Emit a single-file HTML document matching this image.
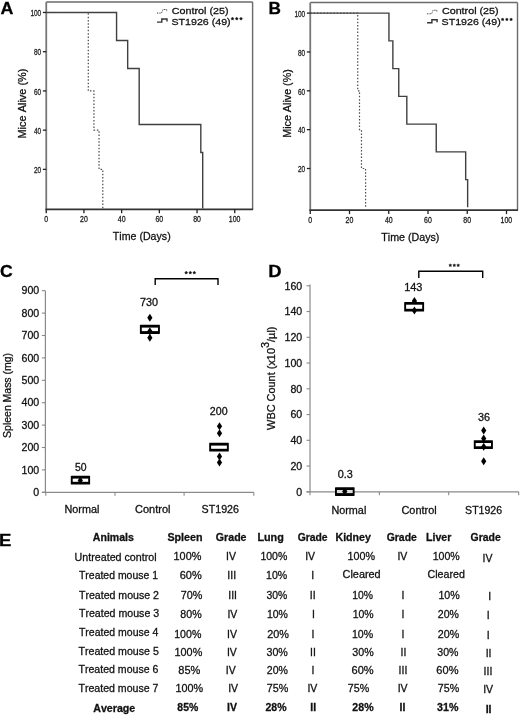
<!DOCTYPE html>
<html><head><meta charset="utf-8"><style>
html,body{margin:0;padding:0;background:#fff;}
body{width:520px;height:715px;position:relative;overflow:hidden;font-family:"Liberation Sans", sans-serif;}
</style></head><body>
<svg width="520" height="715" viewBox="0 0 520 715" style="position:absolute;left:0;top:0;will-change:transform">
<g font-family='"Liberation Sans", sans-serif' style="font-kerning:none" stroke-width="0.28">
<line x1="46.25" y1="2.00" x2="252.60" y2="2.00" stroke="#6a6a6a" stroke-width="1.5"/>
<line x1="252.60" y1="2.00" x2="252.60" y2="209.40" stroke="#6a6a6a" stroke-width="1.4"/>
<line x1="46.25" y1="2.00" x2="46.25" y2="210.10" stroke="#777" stroke-width="1.8"/>
<line x1="45.55" y1="209.40" x2="253.10" y2="209.40" stroke="#333" stroke-width="1.7"/>
<line x1="42.85" y1="169.38" x2="46.25" y2="169.38" stroke="#222" stroke-width="1.3"/>
<text transform="translate(34.03,173.08) scale(0.750,1)" font-size="8.6" fill="#1a1a1a" stroke="#1a1a1a">20</text>
<line x1="42.85" y1="130.15" x2="46.25" y2="130.15" stroke="#222" stroke-width="1.3"/>
<text transform="translate(34.03,133.85) scale(0.750,1)" font-size="8.6" fill="#1a1a1a" stroke="#1a1a1a">40</text>
<line x1="42.85" y1="90.93" x2="46.25" y2="90.93" stroke="#222" stroke-width="1.3"/>
<text transform="translate(34.03,94.63) scale(0.750,1)" font-size="8.6" fill="#1a1a1a" stroke="#1a1a1a">60</text>
<line x1="42.85" y1="51.70" x2="46.25" y2="51.70" stroke="#222" stroke-width="1.3"/>
<text transform="translate(34.03,55.40) scale(0.750,1)" font-size="8.6" fill="#1a1a1a" stroke="#1a1a1a">80</text>
<line x1="42.85" y1="12.48" x2="46.25" y2="12.48" stroke="#222" stroke-width="1.3"/>
<text transform="translate(30.44,16.18) scale(0.750,1)" font-size="8.6" fill="#1a1a1a" stroke="#1a1a1a">100</text>
<line x1="46.25" y1="209.40" x2="46.25" y2="213.30" stroke="#222" stroke-width="1.3"/>
<text transform="translate(44.31,221.80) scale(0.820,1)" font-size="8.5" fill="#1a1a1a" stroke="#1a1a1a">0</text>
<line x1="83.95" y1="209.40" x2="83.95" y2="213.30" stroke="#222" stroke-width="1.3"/>
<text transform="translate(80.03,221.80) scale(0.820,1)" font-size="8.5" fill="#1a1a1a" stroke="#1a1a1a">20</text>
<line x1="121.65" y1="209.40" x2="121.65" y2="213.30" stroke="#222" stroke-width="1.3"/>
<text transform="translate(117.83,221.80) scale(0.820,1)" font-size="8.5" fill="#1a1a1a" stroke="#1a1a1a">40</text>
<line x1="159.35" y1="209.40" x2="159.35" y2="213.30" stroke="#222" stroke-width="1.3"/>
<text transform="translate(155.43,221.80) scale(0.820,1)" font-size="8.5" fill="#1a1a1a" stroke="#1a1a1a">60</text>
<line x1="197.05" y1="209.40" x2="197.05" y2="213.30" stroke="#222" stroke-width="1.3"/>
<text transform="translate(193.16,221.80) scale(0.820,1)" font-size="8.5" fill="#1a1a1a" stroke="#1a1a1a">80</text>
<line x1="234.75" y1="209.40" x2="234.75" y2="213.30" stroke="#222" stroke-width="1.3"/>
<text transform="translate(228.81,221.80) scale(0.820,1)" font-size="8.5" fill="#1a1a1a" stroke="#1a1a1a">100</text>
<path d="M46.25,12.48 H116.56 V40.51 H127.68 V68.51 H139.18 V124.54 H200.82 V152.57 H202.71 V208.60" stroke="#404040" stroke-width="1.4" fill="none"/>
<path d="M46.25,12.48 H88.29 V90.93 H93.94 V130.15 H99.03 V169.38 H102.80 V208.60" stroke="#4a4a4a" stroke-width="1.2" fill="none" stroke-dasharray="1.5,1.8"/>
<text transform="translate(0.55,13.80) scale(1.084,1)" font-size="16.5" font-weight="bold" fill="#000" stroke="#000">A</text>
<path d="M157.0,13.1 H161.5 L163.0,9.5 H166.7 V11.9" stroke="#333" stroke-width="1.0" fill="none" stroke-dasharray="1.2,1.2"/>
<path d="M157.0,22.1 H161.8 V19.0 H167.0 V21.5" stroke="#333" stroke-width="1.4" fill="none"/>
<text transform="translate(171.85,13.70) scale(1.096,1)" font-size="9.8" fill="#111" stroke="#111">Control (25)</text>
<text transform="translate(171.42,24.70) scale(1.088,1)" font-size="9.8" fill="#111" stroke="#111">ST1926 (49)</text>
<polygon points="232.50,17.20 232.98,18.03 233.93,18.24 233.28,18.95 233.38,19.91 232.50,19.52 231.62,19.91 231.72,18.95 231.07,18.24 232.02,18.03" fill="#111" stroke="#111" stroke-width="0.5"/>
<polygon points="236.75,17.20 237.23,18.03 238.18,18.24 237.53,18.95 237.63,19.91 236.75,19.52 235.87,19.91 235.97,18.95 235.32,18.24 236.27,18.03" fill="#111" stroke="#111" stroke-width="0.5"/>
<polygon points="241.00,17.20 241.48,18.03 242.43,18.24 241.78,18.95 241.88,19.91 241.00,19.52 240.12,19.91 240.22,18.95 239.57,18.24 240.52,18.03" fill="#111" stroke="#111" stroke-width="0.5"/>
<text transform="translate(26.40,138.50) rotate(-90) scale(1.035,1)" font-size="10.6" fill="#111" stroke="#111">Mice Alive (%)</text>
<text transform="translate(112.86,240.10) scale(1.002,1)" font-size="10.6" fill="#111" stroke="#111">Time (Days)</text>
<line x1="310.25" y1="2.60" x2="517.50" y2="2.60" stroke="#6a6a6a" stroke-width="1.5"/>
<line x1="517.50" y1="2.60" x2="517.50" y2="210.20" stroke="#6a6a6a" stroke-width="1.4"/>
<line x1="310.25" y1="2.60" x2="310.25" y2="210.90" stroke="#777" stroke-width="1.8"/>
<line x1="309.55" y1="210.20" x2="518.00" y2="210.20" stroke="#333" stroke-width="1.7"/>
<line x1="306.85" y1="168.50" x2="310.25" y2="168.50" stroke="#222" stroke-width="1.3"/>
<text transform="translate(298.03,172.20) scale(0.750,1)" font-size="8.6" fill="#1a1a1a" stroke="#1a1a1a">20</text>
<line x1="306.85" y1="129.65" x2="310.25" y2="129.65" stroke="#222" stroke-width="1.3"/>
<text transform="translate(298.03,133.35) scale(0.750,1)" font-size="8.6" fill="#1a1a1a" stroke="#1a1a1a">40</text>
<line x1="306.85" y1="90.80" x2="310.25" y2="90.80" stroke="#222" stroke-width="1.3"/>
<text transform="translate(298.03,94.50) scale(0.750,1)" font-size="8.6" fill="#1a1a1a" stroke="#1a1a1a">60</text>
<line x1="306.85" y1="51.95" x2="310.25" y2="51.95" stroke="#222" stroke-width="1.3"/>
<text transform="translate(298.03,55.65) scale(0.750,1)" font-size="8.6" fill="#1a1a1a" stroke="#1a1a1a">80</text>
<line x1="306.85" y1="13.10" x2="310.25" y2="13.10" stroke="#222" stroke-width="1.3"/>
<text transform="translate(294.44,16.80) scale(0.750,1)" font-size="8.6" fill="#1a1a1a" stroke="#1a1a1a">100</text>
<line x1="310.25" y1="210.20" x2="310.25" y2="214.10" stroke="#222" stroke-width="1.3"/>
<text transform="translate(308.31,222.60) scale(0.820,1)" font-size="8.5" fill="#1a1a1a" stroke="#1a1a1a">0</text>
<line x1="349.50" y1="210.20" x2="349.50" y2="214.10" stroke="#222" stroke-width="1.3"/>
<text transform="translate(345.58,222.60) scale(0.820,1)" font-size="8.5" fill="#1a1a1a" stroke="#1a1a1a">20</text>
<line x1="388.75" y1="210.20" x2="388.75" y2="214.10" stroke="#222" stroke-width="1.3"/>
<text transform="translate(384.93,222.60) scale(0.820,1)" font-size="8.5" fill="#1a1a1a" stroke="#1a1a1a">40</text>
<line x1="428.00" y1="210.20" x2="428.00" y2="214.10" stroke="#222" stroke-width="1.3"/>
<text transform="translate(424.08,222.60) scale(0.820,1)" font-size="8.5" fill="#1a1a1a" stroke="#1a1a1a">60</text>
<line x1="467.25" y1="210.20" x2="467.25" y2="214.10" stroke="#222" stroke-width="1.3"/>
<text transform="translate(463.36,222.60) scale(0.820,1)" font-size="8.5" fill="#1a1a1a" stroke="#1a1a1a">80</text>
<line x1="506.50" y1="210.20" x2="506.50" y2="214.10" stroke="#222" stroke-width="1.3"/>
<text transform="translate(500.56,222.60) scale(0.820,1)" font-size="8.5" fill="#1a1a1a" stroke="#1a1a1a">100</text>
<path d="M310.25,13.10 H388.95 V40.86 H392.87 V68.60 H398.76 V96.36 H406.81 V124.09 H436.24 V151.85 H465.68 V179.59 H467.64 V207.35" stroke="#404040" stroke-width="1.4" fill="none"/>
<path d="M310.25,13.10 H357.74 V90.80 H359.51 V129.65 H361.47 V168.50 H365.59 V207.35" stroke="#4a4a4a" stroke-width="1.2" fill="none" stroke-dasharray="1.5,1.8"/>
<text transform="translate(268.60,13.50) scale(1.043,1)" font-size="16.5" font-weight="bold" fill="#000" stroke="#000">B</text>
<path d="M427.1,13.8 H431.6 L433.1,10.2 H436.8 V12.6" stroke="#333" stroke-width="1.0" fill="none" stroke-dasharray="1.2,1.2"/>
<path d="M427.1,22.8 H431.9 V19.7 H437.1 V22.2" stroke="#333" stroke-width="1.4" fill="none"/>
<text transform="translate(441.95,14.40) scale(1.096,1)" font-size="9.8" fill="#111" stroke="#111">Control (25)</text>
<text transform="translate(441.52,25.40) scale(1.088,1)" font-size="9.8" fill="#111" stroke="#111">ST1926 (49)</text>
<polygon points="502.60,17.90 503.08,18.73 504.03,18.94 503.38,19.65 503.48,20.61 502.60,20.22 501.72,20.61 501.82,19.65 501.17,18.94 502.12,18.73" fill="#111" stroke="#111" stroke-width="0.5"/>
<polygon points="506.85,17.90 507.33,18.73 508.28,18.94 507.63,19.65 507.73,20.61 506.85,20.22 505.97,20.61 506.07,19.65 505.42,18.94 506.37,18.73" fill="#111" stroke="#111" stroke-width="0.5"/>
<polygon points="511.10,17.90 511.58,18.73 512.53,18.94 511.88,19.65 511.98,20.61 511.10,20.22 510.22,20.61 510.32,19.65 509.67,18.94 510.62,18.73" fill="#111" stroke="#111" stroke-width="0.5"/>
<text transform="translate(290.50,137.78) rotate(-90) scale(1.014,1)" font-size="10.6" fill="#111" stroke="#111">Mice Alive (%)</text>
<text transform="translate(381.26,240.60) scale(1.009,1)" font-size="10.6" fill="#111" stroke="#111">Time (Days)</text>
<text transform="translate(0.08,276.80) scale(1.066,1)" font-size="16.5" font-weight="bold" fill="#000" stroke="#000">C</text>
<line x1="45.40" y1="290.70" x2="45.40" y2="492.30" stroke="#8a8a8a" stroke-width="1.2"/>
<line x1="41.90" y1="492.30" x2="253.80" y2="492.30" stroke="#8a8a8a" stroke-width="1.2"/>
<line x1="41.90" y1="492.30" x2="45.40" y2="492.30" stroke="#8a8a8a" stroke-width="1.1"/>
<line x1="41.90" y1="469.90" x2="45.40" y2="469.90" stroke="#8a8a8a" stroke-width="1.1"/>
<line x1="41.90" y1="447.50" x2="45.40" y2="447.50" stroke="#8a8a8a" stroke-width="1.1"/>
<line x1="41.90" y1="425.10" x2="45.40" y2="425.10" stroke="#8a8a8a" stroke-width="1.1"/>
<line x1="41.90" y1="402.70" x2="45.40" y2="402.70" stroke="#8a8a8a" stroke-width="1.1"/>
<line x1="41.90" y1="380.30" x2="45.40" y2="380.30" stroke="#8a8a8a" stroke-width="1.1"/>
<line x1="41.90" y1="357.90" x2="45.40" y2="357.90" stroke="#8a8a8a" stroke-width="1.1"/>
<line x1="41.90" y1="335.50" x2="45.40" y2="335.50" stroke="#8a8a8a" stroke-width="1.1"/>
<line x1="41.90" y1="313.10" x2="45.40" y2="313.10" stroke="#8a8a8a" stroke-width="1.1"/>
<line x1="41.90" y1="290.70" x2="45.40" y2="290.70" stroke="#8a8a8a" stroke-width="1.1"/>
<line x1="45.80" y1="492.30" x2="45.80" y2="495.70" stroke="#8a8a8a" stroke-width="1.1"/>
<line x1="115.00" y1="492.30" x2="115.00" y2="495.70" stroke="#8a8a8a" stroke-width="1.1"/>
<line x1="184.10" y1="492.30" x2="184.10" y2="495.70" stroke="#8a8a8a" stroke-width="1.1"/>
<line x1="253.80" y1="492.30" x2="253.80" y2="495.70" stroke="#8a8a8a" stroke-width="1.1"/>
<text transform="translate(33.32,496.00) scale(1.000,1)" font-size="10.6" fill="#111" stroke="#111">0</text>
<text transform="translate(21.53,473.60) scale(1.000,1)" font-size="10.6" fill="#111" stroke="#111">100</text>
<text transform="translate(21.53,451.20) scale(1.000,1)" font-size="10.6" fill="#111" stroke="#111">200</text>
<text transform="translate(21.53,428.80) scale(1.000,1)" font-size="10.6" fill="#111" stroke="#111">300</text>
<text transform="translate(21.53,406.40) scale(1.000,1)" font-size="10.6" fill="#111" stroke="#111">400</text>
<text transform="translate(21.53,384.00) scale(1.000,1)" font-size="10.6" fill="#111" stroke="#111">500</text>
<text transform="translate(21.53,361.60) scale(1.000,1)" font-size="10.6" fill="#111" stroke="#111">600</text>
<text transform="translate(21.53,339.20) scale(1.000,1)" font-size="10.6" fill="#111" stroke="#111">700</text>
<text transform="translate(21.53,316.80) scale(1.000,1)" font-size="10.6" fill="#111" stroke="#111">800</text>
<text transform="translate(21.53,294.40) scale(1.000,1)" font-size="10.6" fill="#111" stroke="#111">900</text>
<text transform="translate(10.90,437.88) rotate(-90) scale(1.017,1)" font-size="10.3" fill="#111" stroke="#111">Spleen Mass (mg)</text>
<text transform="translate(64.51,513.30) scale(1.062,1)" font-size="10.2" fill="#111" stroke="#111">Normal</text>
<text transform="translate(135.04,513.40) scale(1.080,1)" font-size="10.2" fill="#111" stroke="#111">Control</text>
<text transform="translate(201.62,513.40) scale(1.046,1)" font-size="10.2" fill="#111" stroke="#111">ST1926</text>
<path d="M155.2,285 V278.7 H218 V285" stroke="#000" stroke-width="1.4" fill="none"/>
<polygon points="186.20,271.20 186.68,272.03 187.63,272.24 186.98,272.95 187.08,273.91 186.20,273.52 185.32,273.91 185.42,272.95 184.77,272.24 185.72,272.03" fill="#111" stroke="#111" stroke-width="0.5"/>
<polygon points="190.30,271.20 190.78,272.03 191.73,272.24 191.08,272.95 191.18,273.91 190.30,273.52 189.42,273.91 189.52,272.95 188.87,272.24 189.82,272.03" fill="#111" stroke="#111" stroke-width="0.5"/>
<polygon points="194.30,271.20 194.78,272.03 195.73,272.24 195.08,272.95 195.18,273.91 194.30,273.52 193.42,273.91 193.52,272.95 192.87,272.24 193.82,272.03" fill="#111" stroke="#111" stroke-width="0.5"/>
<text transform="translate(74.98,470.80) scale(1.045,1)" font-size="10.0" fill="#111" stroke="#111">50</text>
<text transform="translate(140.04,305.80) scale(1.084,1)" font-size="10.0" fill="#111" stroke="#111">730</text>
<text transform="translate(209.86,415.10) scale(1.064,1)" font-size="10.0" fill="#111" stroke="#111">200</text>
<rect x="70.80" y="475.80" width="19.30" height="8.80" fill="#000" rx="0.6"/>
<rect x="72.70" y="478.60" width="15.50" height="3.20" fill="#fff"/>
<path d="M80.30,476.50 L82.90,480.50 L80.30,484.50 L77.70,480.50 Z" fill="#000"/>
<path d="M149.85,313.80 L152.45,317.80 L149.85,321.80 L147.25,317.80 Z" fill="#000"/>
<rect x="139.90" y="324.80" width="20.00" height="9.10" fill="#000" rx="0.6"/>
<rect x="141.80" y="327.60" width="16.20" height="3.50" fill="#fff"/>
<path d="M149.85,327.20 L152.45,331.20 L149.85,335.20 L147.25,331.20 Z" fill="#000"/>
<path d="M149.85,333.80 L152.45,337.80 L149.85,341.80 L147.25,337.80 Z" fill="#000"/>
<path d="M219.50,422.30 L222.10,426.30 L219.50,430.30 L216.90,426.30 Z" fill="#000"/>
<path d="M219.50,429.20 L222.10,433.20 L219.50,437.20 L216.90,433.20 Z" fill="#000"/>
<rect x="209.20" y="442.80" width="19.60" height="8.80" fill="#000" rx="0.6"/>
<rect x="211.10" y="445.60" width="15.80" height="3.20" fill="#fff"/>
<path d="M219.50,452.60 L222.10,456.60 L219.50,460.60 L216.90,456.60 Z" fill="#000"/>
<path d="M219.50,458.50 L222.10,462.50 L219.50,466.50 L216.90,462.50 Z" fill="#000"/>
<text transform="translate(268.27,276.50) scale(1.117,1)" font-size="16.5" font-weight="bold" fill="#000" stroke="#000">D</text>
<line x1="310.00" y1="284.50" x2="310.00" y2="491.80" stroke="#8a8a8a" stroke-width="1.2"/>
<line x1="306.50" y1="491.80" x2="518.70" y2="491.80" stroke="#8a8a8a" stroke-width="1.2"/>
<line x1="306.50" y1="491.80" x2="310.00" y2="491.80" stroke="#8a8a8a" stroke-width="1.1"/>
<line x1="306.50" y1="466.05" x2="310.00" y2="466.05" stroke="#8a8a8a" stroke-width="1.1"/>
<line x1="306.50" y1="440.30" x2="310.00" y2="440.30" stroke="#8a8a8a" stroke-width="1.1"/>
<line x1="306.50" y1="414.55" x2="310.00" y2="414.55" stroke="#8a8a8a" stroke-width="1.1"/>
<line x1="306.50" y1="388.80" x2="310.00" y2="388.80" stroke="#8a8a8a" stroke-width="1.1"/>
<line x1="306.50" y1="363.05" x2="310.00" y2="363.05" stroke="#8a8a8a" stroke-width="1.1"/>
<line x1="306.50" y1="337.30" x2="310.00" y2="337.30" stroke="#8a8a8a" stroke-width="1.1"/>
<line x1="306.50" y1="311.55" x2="310.00" y2="311.55" stroke="#8a8a8a" stroke-width="1.1"/>
<line x1="306.50" y1="285.80" x2="310.00" y2="285.80" stroke="#8a8a8a" stroke-width="1.1"/>
<line x1="310.00" y1="491.80" x2="310.00" y2="495.20" stroke="#8a8a8a" stroke-width="1.1"/>
<line x1="379.40" y1="491.80" x2="379.40" y2="495.20" stroke="#8a8a8a" stroke-width="1.1"/>
<line x1="448.70" y1="491.80" x2="448.70" y2="495.20" stroke="#8a8a8a" stroke-width="1.1"/>
<line x1="518.70" y1="491.80" x2="518.70" y2="495.20" stroke="#8a8a8a" stroke-width="1.1"/>
<text transform="translate(296.32,495.50) scale(1.000,1)" font-size="10.6" fill="#111" stroke="#111">0</text>
<text transform="translate(290.42,469.75) scale(1.000,1)" font-size="10.6" fill="#111" stroke="#111">20</text>
<text transform="translate(290.42,444.00) scale(1.000,1)" font-size="10.6" fill="#111" stroke="#111">40</text>
<text transform="translate(290.42,418.25) scale(1.000,1)" font-size="10.6" fill="#111" stroke="#111">60</text>
<text transform="translate(290.42,392.50) scale(1.000,1)" font-size="10.6" fill="#111" stroke="#111">80</text>
<text transform="translate(284.53,366.75) scale(1.000,1)" font-size="10.6" fill="#111" stroke="#111">100</text>
<text transform="translate(284.53,341.00) scale(1.000,1)" font-size="10.6" fill="#111" stroke="#111">120</text>
<text transform="translate(284.53,315.25) scale(1.000,1)" font-size="10.6" fill="#111" stroke="#111">140</text>
<text transform="translate(284.53,289.50) scale(1.000,1)" font-size="10.6" fill="#111" stroke="#111">160</text>
<text transform="translate(275.0,429.9) rotate(-90) scale(1.06,1)" font-size="10.3" fill="#111" stroke="#111">WBC Count (x10<tspan dy="-6.3">3</tspan><tspan dy="6.3">/µl)</tspan></text>
<text transform="translate(331.41,513.60) scale(1.062,1)" font-size="10.2" fill="#111" stroke="#111">Normal</text>
<text transform="translate(401.44,513.60) scale(1.073,1)" font-size="10.2" fill="#111" stroke="#111">Control</text>
<text transform="translate(465.12,513.60) scale(1.037,1)" font-size="10.2" fill="#111" stroke="#111">ST1926</text>
<path d="M418.8,278.1 V271.2 H482.7 V278.1" stroke="#000" stroke-width="1.4" fill="none"/>
<polygon points="450.30,263.80 450.78,264.63 451.73,264.84 451.08,265.55 451.18,266.51 450.30,266.12 449.42,266.51 449.52,265.55 448.87,264.84 449.82,264.63" fill="#111" stroke="#111" stroke-width="0.5"/>
<polygon points="454.30,263.80 454.78,264.63 455.73,264.84 455.08,265.55 455.18,266.51 454.30,266.12 453.42,266.51 453.52,265.55 452.87,264.84 453.82,264.63" fill="#111" stroke="#111" stroke-width="0.5"/>
<polygon points="458.20,263.80 458.68,264.63 459.63,264.84 458.98,265.55 459.08,266.51 458.20,266.12 457.32,266.51 457.42,265.55 456.77,264.84 457.72,264.63" fill="#111" stroke="#111" stroke-width="0.5"/>
<text transform="translate(337.78,477.90) scale(1.086,1)" font-size="10.0" fill="#111" stroke="#111">0.3</text>
<text transform="translate(404.17,290.50) scale(1.091,1)" font-size="10.0" fill="#111" stroke="#111">143</text>
<text transform="translate(477.89,421.40) scale(1.087,1)" font-size="10.0" fill="#111" stroke="#111">36</text>
<rect x="335.00" y="487.20" width="19.60" height="8.70" fill="#000" rx="0.6"/>
<rect x="336.90" y="490.00" width="15.80" height="3.10" fill="#ddd"/>
<path d="M344.80,487.50 L347.40,491.50 L344.80,495.50 L342.20,491.50 Z" fill="#000"/>
<path d="M414.40,297.00 L417.00,301.00 L414.40,305.00 L411.80,301.00 Z" fill="#000"/>
<rect x="404.20" y="301.90" width="19.90" height="9.70" fill="#000" rx="0.6"/>
<rect x="406.10" y="304.70" width="16.10" height="4.10" fill="#fff"/>
<path d="M414.40,306.40 L417.00,310.40 L414.40,314.40 L411.80,310.40 Z" fill="#000"/>
<path d="M483.70,426.40 L486.30,430.40 L483.70,434.40 L481.10,430.40 Z" fill="#000"/>
<path d="M483.70,434.50 L486.30,438.50 L483.70,442.50 L481.10,438.50 Z" fill="#000"/>
<rect x="473.80" y="440.20" width="19.10" height="8.90" fill="#000" rx="0.6"/>
<rect x="475.70" y="443.00" width="15.30" height="3.30" fill="#fff"/>
<path d="M483.70,442.70 L486.30,446.70 L483.70,450.70 L481.10,446.70 Z" fill="#000"/>
<path d="M483.70,457.20 L486.30,461.20 L483.70,465.20 L481.10,461.20 Z" fill="#000"/>
<text transform="translate(-1.04,545.80) scale(1.123,1)" font-size="16.5" font-weight="bold" fill="#000" stroke="#000">E</text>
<text transform="translate(92.84,541.00) scale(1.016,1)" font-size="10.4" font-weight="bold" fill="#111" stroke="#111">Animals</text>
<text transform="translate(167.39,541.00) scale(1.032,1)" font-size="10.4" font-weight="bold" fill="#111" stroke="#111">Spleen</text>
<text transform="translate(215.86,541.00) scale(1.021,1)" font-size="10.4" font-weight="bold" fill="#111" stroke="#111">Grade</text>
<text transform="translate(257.38,541.00) scale(1.041,1)" font-size="10.4" font-weight="bold" fill="#111" stroke="#111">Lung</text>
<text transform="translate(297.67,541.00) scale(0.997,1)" font-size="10.4" font-weight="bold" fill="#111" stroke="#111">Grade</text>
<text transform="translate(335.49,541.00) scale(1.020,1)" font-size="10.4" font-weight="bold" fill="#111" stroke="#111">Kidney</text>
<text transform="translate(386.67,541.00) scale(1.004,1)" font-size="10.4" font-weight="bold" fill="#111" stroke="#111">Grade</text>
<text transform="translate(425.99,541.00) scale(1.021,1)" font-size="10.4" font-weight="bold" fill="#111" stroke="#111">Liver</text>
<text transform="translate(470.57,541.00) scale(1.004,1)" font-size="10.4" font-weight="bold" fill="#111" stroke="#111">Grade</text>
<text transform="translate(74.57,560.60) scale(1.020,1)" font-size="10.5" fill="#111" stroke="#111">Untreated control</text>
<text transform="translate(78.97,579.20) scale(0.996,1)" font-size="10.5" fill="#111" stroke="#111">Treated mouse 1</text>
<text transform="translate(78.96,598.50) scale(1.009,1)" font-size="10.5" fill="#111" stroke="#111">Treated mouse 2</text>
<text transform="translate(78.96,617.00) scale(1.012,1)" font-size="10.5" fill="#111" stroke="#111">Treated mouse 3</text>
<text transform="translate(78.96,636.20) scale(1.000,1)" font-size="10.5" fill="#111" stroke="#111">Treated mouse 4</text>
<text transform="translate(78.46,654.80) scale(1.014,1)" font-size="10.5" fill="#111" stroke="#111">Treated mouse 5</text>
<text transform="translate(78.46,673.30) scale(1.008,1)" font-size="10.5" fill="#111" stroke="#111">Treated mouse 6</text>
<text transform="translate(78.46,691.90) scale(1.009,1)" font-size="10.5" fill="#111" stroke="#111">Treated mouse 7</text>
<text transform="translate(93.23,711.70) scale(1.026,1)" font-size="10.4" font-weight="bold" fill="#111" stroke="#111">Average</text>
<text transform="translate(173.57,560.20) scale(1.036,1)" font-size="10.5" fill="#111" stroke="#111">100%</text>
<text transform="translate(225.98,560.20) scale(1.000,1)" font-size="10.5" fill="#111" stroke="#111">IV</text>
<text transform="translate(260.40,560.20) scale(1.001,1)" font-size="10.5" fill="#111" stroke="#111">100%</text>
<text transform="translate(305.18,560.20) scale(1.000,1)" font-size="10.5" fill="#111" stroke="#111">IV</text>
<text transform="translate(347.48,560.20) scale(1.024,1)" font-size="10.5" fill="#111" stroke="#111">100%</text>
<text transform="translate(397.38,560.20) scale(1.000,1)" font-size="10.5" fill="#111" stroke="#111">IV</text>
<text transform="translate(432.69,560.20) scale(1.009,1)" font-size="10.5" fill="#111" stroke="#111">100%</text>
<text transform="translate(482.48,561.50) scale(1.000,1)" font-size="10.5" fill="#111" stroke="#111">IV</text>
<text transform="translate(179.64,578.50) scale(1.049,1)" font-size="10.5" fill="#111" stroke="#111">60%</text>
<text transform="translate(227.37,578.50) scale(1.000,1)" font-size="10.5" fill="#111" stroke="#111">III</text>
<text transform="translate(266.09,578.50) scale(1.008,1)" font-size="10.5" fill="#111" stroke="#111">10%</text>
<text transform="translate(311.34,578.50) scale(1.000,1)" font-size="10.5" fill="#111" stroke="#111">I</text>
<text transform="translate(342.55,577.90) scale(1.038,1)" font-size="10.5" fill="#111" stroke="#111">Cleared</text>
<text transform="translate(427.56,577.90) scale(1.015,1)" font-size="10.5" fill="#111" stroke="#111">Cleared</text>
<text transform="translate(180.65,598.70) scale(1.030,1)" font-size="10.5" fill="#111" stroke="#111">70%</text>
<text transform="translate(228.22,598.70) scale(1.000,1)" font-size="10.5" fill="#111" stroke="#111">III</text>
<text transform="translate(266.50,598.70) scale(0.988,1)" font-size="10.5" fill="#111" stroke="#111">30%</text>
<text transform="translate(309.78,598.70) scale(1.000,1)" font-size="10.5" fill="#111" stroke="#111">II</text>
<text transform="translate(352.31,598.70) scale(0.988,1)" font-size="10.5" fill="#111" stroke="#111">10%</text>
<text transform="translate(401.54,598.70) scale(1.000,1)" font-size="10.5" fill="#111" stroke="#111">I</text>
<text transform="translate(438.39,598.70) scale(1.018,1)" font-size="10.5" fill="#111" stroke="#111">10%</text>
<text transform="translate(488.14,600.00) scale(1.000,1)" font-size="10.5" fill="#111" stroke="#111">I</text>
<text transform="translate(180.34,617.70) scale(1.016,1)" font-size="10.5" fill="#111" stroke="#111">80%</text>
<text transform="translate(227.38,617.70) scale(1.000,1)" font-size="10.5" fill="#111" stroke="#111">IV</text>
<text transform="translate(266.90,617.70) scale(0.998,1)" font-size="10.5" fill="#111" stroke="#111">10%</text>
<text transform="translate(312.04,617.70) scale(1.000,1)" font-size="10.5" fill="#111" stroke="#111">I</text>
<text transform="translate(352.70,617.70) scale(0.998,1)" font-size="10.5" fill="#111" stroke="#111">10%</text>
<text transform="translate(401.54,617.70) scale(1.000,1)" font-size="10.5" fill="#111" stroke="#111">I</text>
<text transform="translate(437.77,617.70) scale(1.004,1)" font-size="10.5" fill="#111" stroke="#111">20%</text>
<text transform="translate(486.84,619.00) scale(1.000,1)" font-size="10.5" fill="#111" stroke="#111">I</text>
<text transform="translate(174.19,637.50) scale(1.012,1)" font-size="10.5" fill="#111" stroke="#111">100%</text>
<text transform="translate(227.08,637.50) scale(1.000,1)" font-size="10.5" fill="#111" stroke="#111">IV</text>
<text transform="translate(267.15,637.50) scale(1.034,1)" font-size="10.5" fill="#111" stroke="#111">20%</text>
<text transform="translate(311.54,637.50) scale(1.000,1)" font-size="10.5" fill="#111" stroke="#111">I</text>
<text transform="translate(351.89,637.50) scale(1.008,1)" font-size="10.5" fill="#111" stroke="#111">10%</text>
<text transform="translate(401.54,637.50) scale(1.000,1)" font-size="10.5" fill="#111" stroke="#111">I</text>
<text transform="translate(437.76,637.50) scale(1.019,1)" font-size="10.5" fill="#111" stroke="#111">20%</text>
<text transform="translate(486.84,638.80) scale(1.000,1)" font-size="10.5" fill="#111" stroke="#111">I</text>
<text transform="translate(174.57,655.80) scale(1.032,1)" font-size="10.5" fill="#111" stroke="#111">100%</text>
<text transform="translate(226.88,655.80) scale(1.000,1)" font-size="10.5" fill="#111" stroke="#111">IV</text>
<text transform="translate(266.49,655.80) scale(1.018,1)" font-size="10.5" fill="#111" stroke="#111">30%</text>
<text transform="translate(310.08,655.80) scale(1.000,1)" font-size="10.5" fill="#111" stroke="#111">II</text>
<text transform="translate(352.29,655.80) scale(1.018,1)" font-size="10.5" fill="#111" stroke="#111">30%</text>
<text transform="translate(400.48,655.80) scale(1.000,1)" font-size="10.5" fill="#111" stroke="#111">II</text>
<text transform="translate(437.30,655.80) scale(1.008,1)" font-size="10.5" fill="#111" stroke="#111">30%</text>
<text transform="translate(485.68,657.10) scale(1.000,1)" font-size="10.5" fill="#111" stroke="#111">II</text>
<text transform="translate(178.32,673.70) scale(1.050,1)" font-size="10.5" fill="#111" stroke="#111">85%</text>
<text transform="translate(225.78,673.70) scale(1.000,1)" font-size="10.5" fill="#111" stroke="#111">IV</text>
<text transform="translate(266.77,673.70) scale(1.004,1)" font-size="10.5" fill="#111" stroke="#111">20%</text>
<text transform="translate(311.54,673.70) scale(1.000,1)" font-size="10.5" fill="#111" stroke="#111">I</text>
<text transform="translate(351.54,673.70) scale(1.054,1)" font-size="10.5" fill="#111" stroke="#111">60%</text>
<text transform="translate(398.62,673.70) scale(1.000,1)" font-size="10.5" fill="#111" stroke="#111">III</text>
<text transform="translate(436.34,673.70) scale(1.054,1)" font-size="10.5" fill="#111" stroke="#111">60%</text>
<text transform="translate(483.62,675.00) scale(1.000,1)" font-size="10.5" fill="#111" stroke="#111">III</text>
<text transform="translate(175.48,692.00) scale(1.028,1)" font-size="10.5" fill="#111" stroke="#111">100%</text>
<text transform="translate(228.18,692.00) scale(1.000,1)" font-size="10.5" fill="#111" stroke="#111">IV</text>
<text transform="translate(266.75,692.00) scale(1.025,1)" font-size="10.5" fill="#111" stroke="#111">75%</text>
<text transform="translate(307.38,692.00) scale(1.000,1)" font-size="10.5" fill="#111" stroke="#111">IV</text>
<text transform="translate(347.75,692.00) scale(1.020,1)" font-size="10.5" fill="#111" stroke="#111">75%</text>
<text transform="translate(397.68,692.00) scale(1.000,1)" font-size="10.5" fill="#111" stroke="#111">IV</text>
<text transform="translate(437.75,692.00) scale(1.020,1)" font-size="10.5" fill="#111" stroke="#111">75%</text>
<text transform="translate(483.18,693.30) scale(1.000,1)" font-size="10.5" fill="#111" stroke="#111">IV</text>
<text transform="translate(177.37,711.20) scale(0.995,1)" font-size="10.5" font-weight="bold" fill="#111" stroke="#111">85%</text>
<text transform="translate(227.02,711.20) scale(1.000,1)" font-size="10.5" font-weight="bold" fill="#111" stroke="#111">IV</text>
<text transform="translate(265.44,711.20) scale(1.001,1)" font-size="10.5" font-weight="bold" fill="#111" stroke="#111">28%</text>
<text transform="translate(310.28,711.20) scale(1.000,1)" font-size="10.5" font-weight="bold" fill="#111" stroke="#111">II</text>
<text transform="translate(352.33,711.20) scale(1.011,1)" font-size="10.5" font-weight="bold" fill="#111" stroke="#111">28%</text>
<text transform="translate(399.58,711.20) scale(1.000,1)" font-size="10.5" font-weight="bold" fill="#111" stroke="#111">II</text>
<text transform="translate(437.06,711.20) scale(1.015,1)" font-size="10.5" font-weight="bold" fill="#111" stroke="#111">31%</text>
<text transform="translate(485.68,712.50) scale(1.000,1)" font-size="10.5" font-weight="bold" fill="#111" stroke="#111">II</text>
</g></svg>
</body></html>
